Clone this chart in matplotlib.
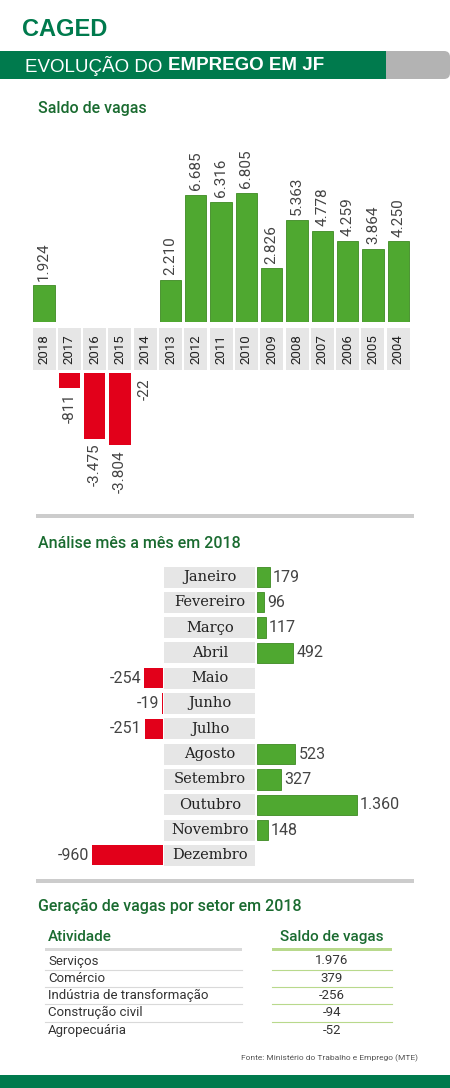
import matplotlib.pyplot as plt
from matplotlib.patches import Rectangle, FancyBboxPatch

W, H = 450, 1088

# === Data ===
anos = ["2018", "2017", "2016", "2015", "2014", "2013", "2012", "2011", "2010",
        "2009", "2008", "2007", "2006", "2005", "2004"]
saldo_anual = [1924, -811, -3475, -3804, -22, 2210, 6685, 6316, 6805,
               2826, 5363, 4778, 4259, 3864, 4250]

meses = ["Janeiro", "Fevereiro", "Março", "Abril", "Maio", "Junho", "Julho",
         "Agosto", "Setembro", "Outubro", "Novembro", "Dezembro"]
saldo_mensal = [179, 96, 117, 492, -254, -19, -251, 523, 327, 1360, 148, -960]

setores = ["Serviços", "Comércio", "Indústria de transformação",
           "Construção civil", "Agropecuária"]
saldo_setor = [1976, 379, -256, -94, -52]

GREEN = "#4fa830"
RED = "#e2001a"
DARK = "#007a4d"
TITLE = "#1a6b30"
GREY = "#e6e6e6"


def fmt(v):
    return f"{v:,}".replace(",", ".")


def ax_px(x0, y0, x1, y1):
    # axes from pixel box (top-left origin)
    return fig.add_axes([x0 / W, 1 - y1 / H, (x1 - x0) / W, (y1 - y0) / H])


fig = plt.figure(figsize=(W / 100, H / 100), dpi=100)
bg = fig.add_axes([0, 0, 1, 1])
bg.set_xlim(0, W)
bg.set_ylim(H, 0)
bg.axis("off")

# header
bg.text(22, 29, "CAGED", fontsize=17, fontweight="bold", color=DARK,
        family="Liberation Sans", va="center")
bg.add_patch(FancyBboxPatch((300, 51), 150, 28, boxstyle="round,pad=0,rounding_size=6",
                            color="#b3b3b3", lw=0))
bg.add_patch(Rectangle((0, 51), 386, 28, color=DARK, lw=0))
t1 = bg.text(25, 66, "EVOLUÇÃO DO ", fontsize=13.5, color="white", va="center",
             family="Liberation Sans")
fig.canvas.draw()
ext = t1.get_window_extent()
bg.text(ext.x1, 66, "EMPREGO EM JF", fontsize=13.5, color="white", va="center",
        fontweight="bold", family="Liberation Sans")
bg.text(38, 108, "Saldo de vagas", fontsize=11.5, color=TITLE, va="center",
        family="Roboto", fontweight="medium")

# year labels band
step = 25.3
for i, a in enumerate(anos):
    xc = 44 + i * step
    bg.add_patch(Rectangle((xc - 11.5, 328), 23, 42, color=GREY, lw=0))
    bg.text(xc, 349, a, rotation=90, ha="center", va="center", fontsize=9.5,
            color="#222222", family="Roboto")

# annual bars: positive part above the year band, negative part below
ip = [i for i, v in enumerate(saldo_anual) if v > 0]
ineg = [i for i, v in enumerate(saldo_anual) if v < 0]
x0, x1 = 44 - step / 2, 44 + (len(anos) - 0.5) * step
axp = ax_px(x0, 140, x1, 322)
axp.bar(ip, [saldo_anual[i] for i in ip], width=0.84, color=GREEN,
        edgecolor="#3d8a22", lw=0.6)
axp.set_xlim(-0.5, len(anos) - 0.5)
axp.set_ylim(0, 9580)
axn = ax_px(x0, 373, x1, 505)
axn.bar(ineg, [saldo_anual[i] for i in ineg], width=0.84, color=RED, lw=0)
axn.set_xlim(-0.5, len(anos) - 0.5)
axn.set_ylim(-6950, 0)
for i, v in enumerate(saldo_anual):
    if v > 0:
        axp.text(i, v + 250, fmt(v), rotation=90, ha="center", va="bottom",
                 fontsize=11, color="#444444", family="Roboto")
    else:
        axn.text(i, v - 250, fmt(v), rotation=90, ha="center", va="top",
                 fontsize=11, color="#444444", family="Roboto")
for a in (axp, axn):
    a.axis("off")

bg.add_patch(Rectangle((36, 514), 378, 4, color="#cccccc", lw=0))
bg.text(38, 543, "Análise mês a mês em 2018", fontsize=11.5, color=TITLE, va="center",
        family="Roboto", fontweight="medium")

# monthly chart
rstep = 25.3
ytop = 577 - rstep / 2
ybot = 577 + (len(meses) - 0.5) * rstep
for i, m in enumerate(meses):
    yc = 577 + i * rstep
    bg.add_patch(Rectangle((164, yc - 10.5), 91, 21, color=GREY, lw=0))
    bg.text(210, yc, m, ha="center", va="center", fontsize=10.5, color="#222222",
            family="DejaVu Serif")
mp = [i for i, v in enumerate(saldo_mensal) if v > 0]
mn = [i for i, v in enumerate(saldo_mensal) if v < 0]
scale = 0.0735
axr = ax_px(257, ytop, 257 + 1900 * scale, ybot)
axr.barh(mp, [saldo_mensal[i] for i in mp], height=0.8, color=GREEN,
         edgecolor="#3d8a22", lw=0.6)
axr.set_xlim(0, 1900)
axr.set_ylim(len(meses) - 0.5, -0.5)
axl = ax_px(163 - 1300 * scale, ytop, 163, ybot)
axl.barh(mn, [saldo_mensal[i] for i in mn], height=0.8, color=RED, lw=0)
axl.set_xlim(-1300, 0)
axl.set_ylim(len(meses) - 0.5, -0.5)
for i, v in enumerate(saldo_mensal):
    if v > 0:
        axr.text(v + 40, i, fmt(v), va="center", ha="left", fontsize=11.5,
                 color="#444444", family="Roboto")
    else:
        axl.text(v - 40, i, fmt(v), va="center", ha="right", fontsize=11.5,
                 color="#444444", family="Roboto")
for a in (axr, axl):
    a.axis("off")

bg.add_patch(Rectangle((36, 879), 378, 4, color="#cccccc", lw=0))
bg.text(38, 906, "Geração de vagas por setor em 2018", fontsize=11.5, color=TITLE,
        va="center", family="Roboto", fontweight="medium")

# table
bg.text(48, 937, "Atividade", fontsize=11, color=TITLE, va="center", family="Roboto",
        fontweight="medium")
bg.text(332, 937, "Saldo de vagas", fontsize=11, color=TITLE, va="center",
        ha="center", family="Roboto", fontweight="medium")
bg.add_patch(Rectangle((45, 948), 197, 3, color="#d9d9d9", lw=0))
bg.add_patch(Rectangle((272, 948), 120, 3, color="#b8d98c", lw=0))
for i, (s, v) in enumerate(zip(setores, saldo_setor)):
    yc = 961 + i * 17.3
    bg.text(48, yc, s, fontsize=9.5, color="#333333", va="center", family="Roboto")
    bg.text(332, yc, fmt(v), fontsize=9.5, color="#333333", va="center",
            ha="center", family="Roboto")
    if i < len(setores) - 1:
        bg.plot([45, 242], [yc + 8.7, yc + 8.7], color="#d9d9d9", lw=0.8)
        bg.plot([272, 392], [yc + 8.7, yc + 8.7], color="#b8d98c", lw=0.8)

bg.text(418, 1058, "Fonte: Ministério do Trabalho e Emprego (MTE)", fontsize=6,
        color="#555555", ha="right", va="center", family="Roboto")
bg.add_patch(Rectangle((0, 1075), W, 13, color=DARK, lw=0))

fig.savefig("out.png", dpi=100)
